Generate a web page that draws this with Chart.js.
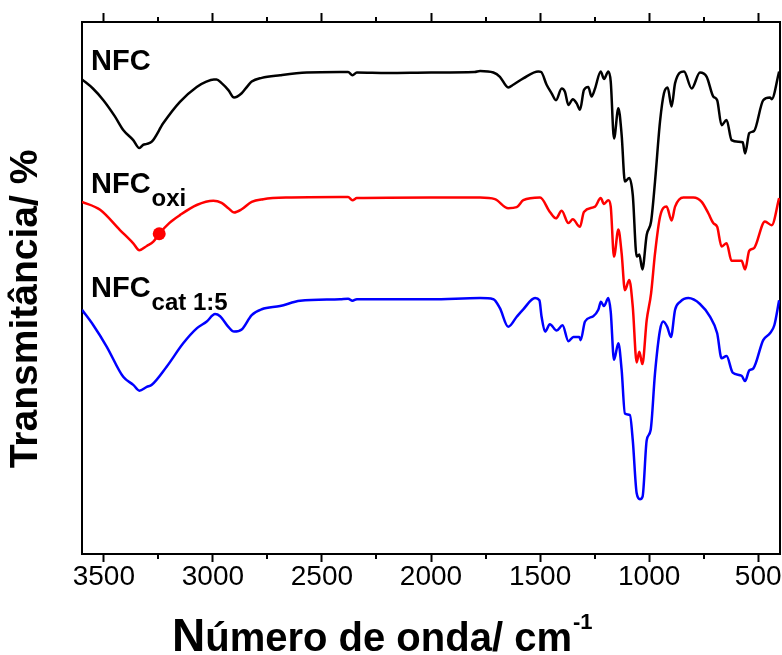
<!DOCTYPE html>
<html>
<head>
<meta charset="utf-8">
<script src="https://cdn.jsdelivr.net/npm/chart.js@4.4.0/dist/chart.umd.min.js"></script>
<style>
html,body{margin:0;padding:0;background:#fff}
</style>
</head>
<body>
<canvas id="chart" width="782" height="655"></canvas>
<script>
// ===== DATA (wavenumber cm-1 / transmittance, arbitrary offset units) =====
const nfcWave = [3600,3550,3502,3450,3411,3365,3337,3320,3303,3280,3227,3151,3074,3030,2995,2983,2960,2929,2903,2868,2840,2822,2776,2692,2570,2417,2380,2360,2340,2200,2000,1800,1775,1714,1684,1646,1623,1577,1508,1495,1470,1447,1427,1401,1386,1370,1350,1332,1317,1299,1279,1264,1248,1222,1207,1187,1176,1161,1141,1126,1111,1091,1075,1057,1045,1031,1011,991,973,950,932,915,897,881,840,805,767,736,706,688,668,645,622,591,571,560,541,519,477,446,438,404];
const nfcT = [89.2,87.5,85.3,82.3,79.7,77.8,76.3,76.9,77.1,77.5,81.0,85.0,87.8,88.8,89.2,89.2,88.5,87.2,85.8,86.6,88.0,88.8,89.5,90.0,90.5,90.6,90.6,90.0,90.5,90.4,90.5,90.6,90.8,90.5,89.7,87.7,88.2,89.4,90.7,90.6,88.2,86.6,85.3,87.5,86.9,84.4,85.5,84.7,83.5,87.2,87.8,86.0,87.5,90.7,89.3,90.7,88.8,78.1,83.8,78.8,70.0,70.7,67.5,55.9,56.3,53.5,60.0,62.5,70.0,81.3,86.6,87.7,84.1,88.5,90.7,87.5,90.5,89.7,86.0,85.3,80.6,81.6,77.8,77.5,77.4,75.3,79.1,79.5,85.3,85.8,85.5,90.7];

const oxiWave = [3600,3517,3426,3365,3337,3303,3273,3246,3200,3151,3074,2998,2960,2929,2903,2868,2822,2769,2662,2417,2380,2360,2340,2000,1775,1707,1646,1607,1577,1500,1455,1427,1401,1370,1350,1317,1299,1248,1222,1207,1187,1176,1161,1141,1126,1111,1091,1075,1057,1045,1031,1011,991,973,950,920,897,881,843,797,759,728,706,688,668,645,622,576,560,541,519,469,438,404];
const oxiT = [66.2,64.7,60.9,58.4,57.1,57.9,58.7,60.2,62.2,63.7,65.6,66.4,66.0,65.0,64.2,64.8,66.2,66.7,67.0,67.1,67.1,66.5,66.9,67.0,67.0,66.7,65.0,65.2,66.5,67.0,64.3,63.1,64.5,62.2,62.9,61.5,64.3,65.3,66.9,65.8,66.5,65.3,55.9,61.0,56.5,49.6,51.5,46.5,36.0,38.0,35.7,44.0,49.0,56.5,63.4,65.3,62.7,65.3,67.0,67.0,66.2,64.0,62.2,61.5,57.8,58.4,55.1,55.1,53.5,57.0,57.5,62.5,61.8,66.9];

const catWave = [3600,3548,3487,3411,3365,3337,3303,3280,3212,3136,3074,3028,2990,2967,2929,2903,2868,2822,2776,2692,2600,2417,2380,2360,2340,2000,1775,1714,1684,1646,1607,1577,1523,1503,1493,1477,1455,1424,1397,1370,1347,1320,1314,1294,1256,1233,1221,1207,1187,1176,1161,1141,1126,1111,1088,1075,1057,1042,1030,1011,993,973,950,935,917,900,881,858,820,767,721,688,668,645,617,576,560,541,522,477,446,426,404];
const catT = [45.9,43.0,39.0,33.3,31.8,30.7,31.4,31.8,35.2,39.6,42.4,43.7,45.1,44.7,42.7,41.8,42.2,44.9,46.0,46.6,47.6,47.9,48.0,47.6,47.9,47.9,48.1,47.9,46.2,42.7,44.6,46.0,48.1,47.7,44.6,41.8,43.2,42.0,43.0,40.0,40.8,40.8,40.2,43.7,44.7,45.9,47.4,46.6,48.1,45.5,36.5,39.6,34.6,26.4,26.1,21.4,11.4,10.3,10.8,21.4,23.3,34.0,42.1,43.7,42.7,40.8,45.9,47.4,48.1,47.0,44.6,41.5,36.8,37.2,34.1,33.5,32.5,34.5,34.9,40.2,41.5,43.0,47.7];

// marked point on NFCoxi curve
const oxiMarkWave = [3246];
const oxiMarkT = [60.2];

const majorTicks = [3500,3000,2500,2000,1500,1000,500];
const minorTicks = [3250,2750,2250,1750,1250,750];


const FAM = "'Liberation Sans', Arial, sans-serif";

function pts(xs, ys){
return xs.map((x,i)=>({x:x, y:ys[i]}));
}

function noPad(s){
s.paddingLeft = 0; s.paddingRight = 0;
s.paddingTop = 0; s.paddingBottom = 0;
}


/* ================= EXTRA DRAWING ================= */
const extras = {
id:"extras",
afterDraw(chart){
let ctx = chart.ctx;
let xs = chart.scales.x;
let a = chart.chartArea;

ctx.save();
ctx.strokeStyle = "#000";
ctx.lineWidth = 2;

// minor ticks, top and bottom
minorTicks.forEach(v=>{
let px = Math.round(xs.getPixelForValue(v));
ctx.beginPath();
ctx.moveTo(px, a.bottom); ctx.lineTo(px, a.bottom+5);
ctx.moveTo(px, a.top); ctx.lineTo(px, a.top-5);
ctx.stroke();
});

ctx.fillStyle = "#000";
ctx.textBaseline = "alphabetic";
ctx.textAlign = "left";

// series labels
function label(main, sub, x, y){
ctx.font = "bold 29px " + FAM;
ctx.fillText(main, x, y);
if(sub){
let w = ctx.measureText(main).width;
ctx.font = "bold 24px " + FAM;
ctx.fillText(sub, x + w + 1, y + 13);
}
}
label("NFC", "", 91, 70);
label("NFC", "oxi", 91, 193);
label("NFC", "cat 1:5", 91, 297);

// x title
let x0 = 172, by = 651;
ctx.font = "bold 46px " + FAM;
ctx.fillText("N", x0, by);
x0 += ctx.measureText("N").width;
ctx.font = "bold 40px " + FAM;
ctx.fillText("úmero de onda/ cm", x0, by);
x0 += ctx.measureText("úmero de onda/ cm").width;
ctx.font = "bold 22px " + FAM;
ctx.fillText("-1", x0 + 1, by - 22);

// y title
ctx.translate(26, 309);
ctx.rotate(-Math.PI/2);
ctx.textAlign = "center";
ctx.textBaseline = "middle";
ctx.font = "bold 39px " + FAM;
ctx.fillText("Transmitância/ %", 0, 0);

ctx.restore();
}
};


/* ================= CHART ================= */
const axisLine = {display:true, width:2, color:"#000"};

new Chart(document.getElementById("chart"), {
type:"line",
data:{
datasets:[
{label:"NFC", data:pts(nfcWave,nfcT), borderColor:"#000000", borderWidth:2.5, pointRadius:0, cubicInterpolationMode:"monotone"},
{label:"NFCoxi", data:pts(oxiWave,oxiT), borderColor:"#ff0000", borderWidth:2.5, pointRadius:0, cubicInterpolationMode:"monotone"},
{label:"NFCcat 1:5", data:pts(catWave,catT), borderColor:"#0000ff", borderWidth:2.5, pointRadius:0, cubicInterpolationMode:"monotone"},
{label:"mark", data:pts(oxiMarkWave,oxiMarkT), showLine:false, pointRadius:6.5, pointBackgroundColor:"#ff0000", pointBorderColor:"#ff0000", pointBorderWidth:0}
]
},
options:{
responsive:false,
animation:false,
layout:{padding:0, autoPadding:false},
plugins:{legend:{display:false}, tooltip:{enabled:false}},
scales:{
x:{
type:"linear", position:"bottom", min:400, max:3600, reverse:true,
afterBuildTicks(s){ s.ticks = majorTicks.map(v=>({value:v})); },
afterFit(s){ s.height = 101; noPad(s); },
ticks:{color:"#000", padding:-2, maxRotation:0, autoSkip:false,
font:{family:FAM, size:28}, callback:v=>String(v)},
grid:{drawOnChartArea:false, drawTicks:true, tickLength:8, tickWidth:2, tickColor:"#000"},
border:axisLine
},
xTop:{
type:"linear", position:"top", min:400, max:3600, reverse:true,
afterBuildTicks(s){ s.ticks = majorTicks.map(v=>({value:v})); },
afterFit(s){ s.height = 22; noPad(s); },
ticks:{display:false},
grid:{drawOnChartArea:false, drawTicks:true, tickLength:9, tickWidth:2, tickColor:"#000"},
border:axisLine
},
y:{
min:0, max:100,
afterFit(s){ s.width = 82; noPad(s); },
ticks:{display:false},
grid:{display:false},
border:axisLine
},
yRight:{
position:"right", min:0, max:100,
afterFit(s){ s.width = 2; noPad(s); },
ticks:{display:false},
grid:{display:false},
border:axisLine
}
}
},
plugins:[extras]
});
</script>
</body>
</html>
